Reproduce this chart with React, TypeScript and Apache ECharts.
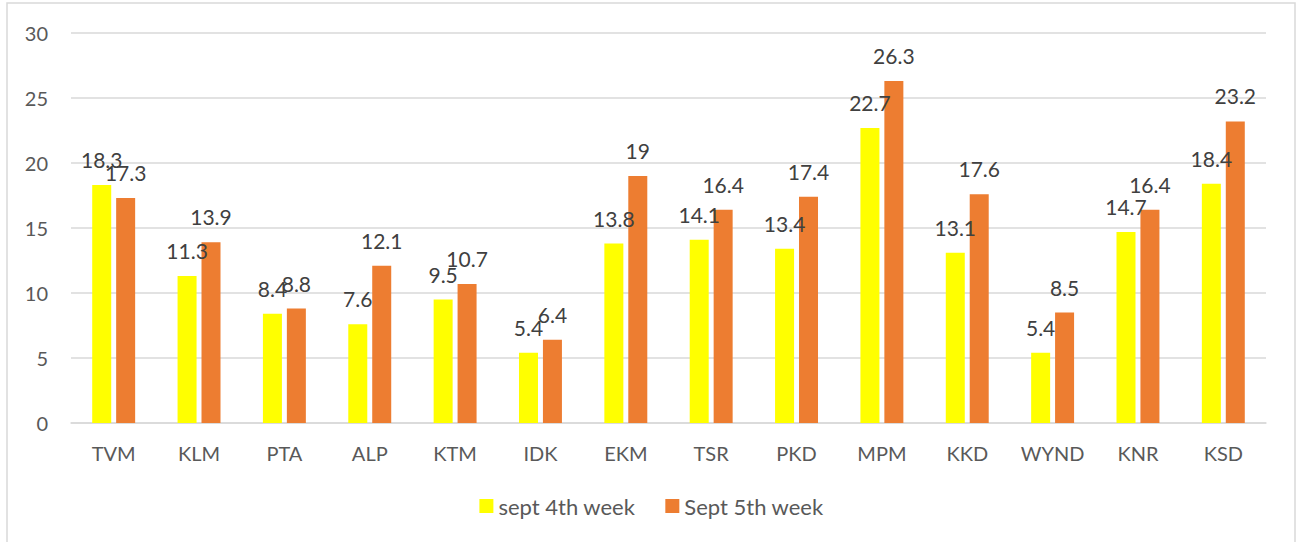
import React, { useEffect, useRef } from "react";
import * as echarts from "echarts";

const categories = ["TVM", "KLM", "PTA", "ALP", "KTM", "IDK", "EKM", "TSR", "PKD", "MPM", "KKD", "WYND", "KNR", "KSD"];
const week4Name = "sept 4th week";
const week5Name = "Sept 5th week";
const week4 = [18.3, 11.3, 8.4, 7.6, 9.5, 5.4, 13.8, 14.1, 13.4, 22.7, 13.1, 5.4, 14.7, 18.4];
const week5 = [17.3, 13.9, 8.8, 12.1, 10.7, 6.4, 19, 16.4, 17.4, 26.3, 17.6, 8.5, 16.4, 23.2];

const FONT = "Lato, 'Open Sans', sans-serif";
const TEXT = "#595959";
const GRID = "#d9d9d9";

export default function App() {
  const ref = useRef<HTMLDivElement>(null);
  useEffect(() => {
    if (!ref.current) return;
    const chart = echarts.init(ref.current, null, { renderer: "svg" });
    const label = {
      show: true,
      position: "top",
      distance: 15,
      color: "#404040",
      fontSize: 21,
      fontFamily: FONT,
    };
    chart.setOption({
      animation: false,
      backgroundColor: "#ffffff",
      textStyle: { fontFamily: FONT },
      graphic: [
        {
          type: "rect",
          shape: { x: 7, y: 3, width: 1288, height: 560 },
          style: { fill: "none", stroke: GRID, lineWidth: 1.5 },
          silent: true,
        },
      ],
      grid: { left: 71, right: 37, top: 33, bottom: 119, containLabel: false },
      legend: {
        bottom: 20,
        left: "center",
        itemWidth: 14,
        itemHeight: 14,
        itemGap: 30,
        icon: "rect",
        textStyle: { color: TEXT, fontSize: 22, fontFamily: FONT, padding: [0, 0, 0, 0] },
        data: [week4Name, week5Name],
      },
      xAxis: {
        type: "category",
        data: categories,
        axisLine: { lineStyle: { color: GRID, width: 1.5 } },
        axisTick: { show: false },
        axisLabel: { color: TEXT, fontSize: 20, fontFamily: FONT, margin: 20 },
      },
      yAxis: {
        type: "value",
        min: 0,
        max: 30,
        interval: 5,
        axisLine: { show: false },
        axisTick: { show: false },
        axisLabel: { color: TEXT, fontSize: 20, fontFamily: FONT, margin: 23 },
        splitLine: { lineStyle: { color: GRID, width: 1.5 } },
      },
      series: [
        {
          name: week4Name,
          type: "bar",
          data: week4,
          barWidth: 19,
          barGap: "26%",
          itemStyle: { color: "#FFFF00" },
          label,
        },
        {
          name: week5Name,
          type: "bar",
          data: week5,
          barWidth: 19,
          itemStyle: { color: "#ED7D31" },
          label,
        },
      ],
    });
    return () => chart.dispose();
  }, []);
  return <div ref={ref} style={{ position: "fixed", left: 0, top: 0, width: 1303, height: 542 }} />;
}
